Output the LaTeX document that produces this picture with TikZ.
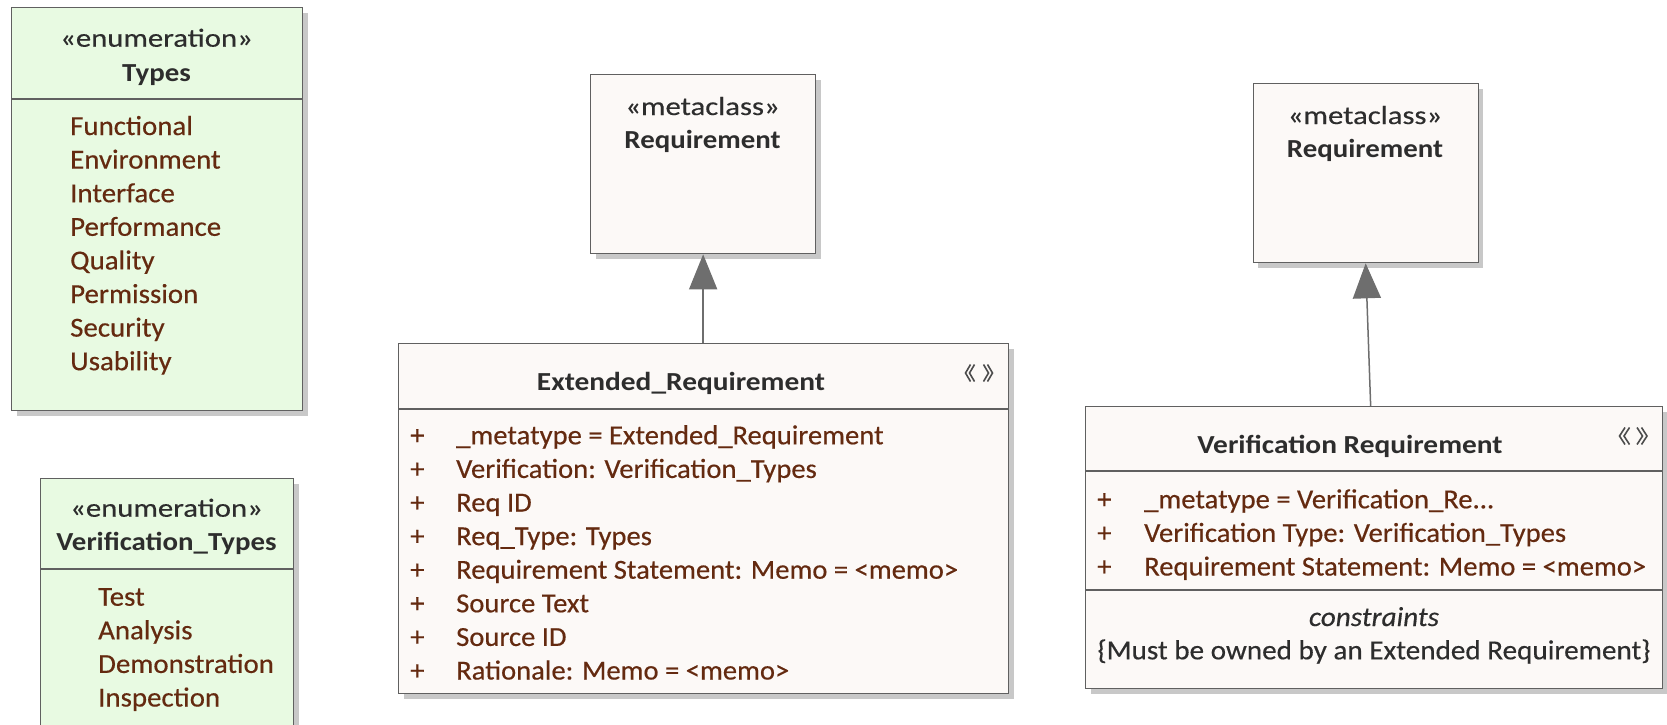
\documentclass[tikz,border=0pt]{standalone}
\usepackage{fontspec}
\setmainfont{Carlito}
\newfontfamily\hdfont[FakeStretch=1.18,FakeBold=0.4]{Carlito}
\newfontfamily\hdbfont[FakeStretch=1.11]{Carlito}
\newfontfamily\itemfont[FakeStretch=1.05,FakeBold=0.4]{Carlito}
\newfontfamily\attrfont[FakeStretch=1.04,FakeBold=0.4]{Carlito}
\newfontfamily\titlefont[FakeStretch=1.13]{Carlito}
\newfontfamily\consfont[FakeStretch=1.06,FakeBold=0.4]{Carlito}
\usetikzlibrary{arrows.meta,calc,shadows}
\definecolor{enumfill}{RGB}{232,250,226}
\definecolor{clsfill}{RGB}{252,249,247}
\definecolor{bordc}{RGB}{96,96,96}
\definecolor{shadowc}{RGB}{200,200,200}
\definecolor{attrc}{RGB}{100,42,16}
\definecolor{titlec}{RGB}{45,45,45}
\definecolor{linec}{RGB}{110,110,110}
\begin{document}
\begin{tikzpicture}[x=1pt,y=-1pt,
  box/.style={draw=bordc, line width=1.3pt, anchor=north west, inner sep=0pt,
    drop shadow={shadow xshift=5pt, shadow yshift=-5pt, fill=shadowc, opacity=1}},
  divider/.style={draw=bordc, line width=1.3pt},
  hd/.style={anchor=base, inner sep=0pt, text=titlec, font=\fontsize{26}{30}\hdfont},
  hdb/.style={anchor=base, inner sep=0pt, text=titlec, font=\fontsize{26}{30}\hdbfont\bfseries},
  itm/.style={anchor=base west, inner sep=0pt, text=attrc, font=\fontsize{27.5}{33}\itemfont},
  attr/.style={anchor=base west, inner sep=0pt, text=attrc, font=\fontsize{27.5}{33}\attrfont},
  ttl/.style={anchor=base, inner sep=0pt, text=titlec, font=\fontsize{26}{30}\titlefont\bfseries},
  cons/.style={anchor=base, inner sep=0pt, text=titlec, font=\fontsize{27.5}{33}\consfont},
  icon/.style={draw=titlec!85, line width=1.6pt},
  gen/.style={draw=linec, line width=1.5pt, -{Triangle[width=28pt,length=35pt]}}]
\useasboundingbox (0,0) rectangle (1667,724);
\clip (0,0) rectangle (1667,724);

% ---------- Types enumeration ----------
\node[box, fill=enumfill, minimum width=291pt, minimum height=403pt] (types) at (11,7) {};
\draw[divider] (11,99) -- (302,99);
\node[hd] (typesst) at (156.5,46.7) {«enumeration»};
\node[hdb] (typesnm) at (156.5,81) {Types};
\foreach \t [count=\i from 0] in {Functional,Environment,Interface,Performance,Quality,Permission,Security,Usability}
  \node[itm] (ty\i) at (70,135+33.6*\i) {\t};

% ---------- Verification_Types enumeration ----------
\node[box, fill=enumfill, minimum width=253pt, minimum height=270pt] (vtypes) at (40,478) {};
\draw[divider] (40,569) -- (293,569);
\node[hd] (vtst) at (166.5,516.7) {«enumeration»};
\node[hdb] (vtnm) at (166.5,550.7) {Verification\_Types};
\foreach \t [count=\i from 0] in {Test,Analysis,Demonstration,Inspection}
  \node[itm] (vt\i) at (98,605.7+33.6*\i) {\t};

% ---------- Metaclass Requirement (left) ----------
\node[box, fill=clsfill, minimum width=225pt, minimum height=179pt] (meta1) at (590,74) {};
\node[hd] (m1st) at (702.5,115) {«metaclass»};
\node[hdb] (m1nm) at (702.5,148.3) {Requirement};

% ---------- Metaclass Requirement (right) ----------
\node[box, fill=clsfill, minimum width=225pt, minimum height=179pt] (meta2) at (1252.5,83) {};
\node[hd] (m2st) at (1365,124) {«metaclass»};
\node[hdb] (m2nm) at (1365,157.3) {Requirement};

% ---------- Extended_Requirement ----------
\node[box, fill=clsfill, minimum width=610pt, minimum height=350pt] (ext) at (398,343) {};
\draw[divider] (398,409) -- (1008,409);
\node[ttl] (extnm) at (681,390) {Extended\_Requirement};
\draw[icon] (970.5,364.5) -- (965.5,373) -- (970.5,381.5) (974.5,364.5) -- (969.5,373) -- (974.5,381.5);
\draw[icon] (983.5,364.5) -- (988.5,373) -- (983.5,381.5) (987.5,364.5) -- (992.5,373) -- (987.5,381.5);
\foreach \t [count=\i from 0] in {\_metatype = Extended\_Requirement,
  Verification: Verification\_Types, Req ID, Req\_Type: Types,
  Requirement Statement: Memo = <memo>, Source Text, Source ID,
  Rationale: Memo = <memo>}
{
  \node[attr] (ep\i) at (410,444.3+33.6*\i) {+};
  \node[attr] (ea\i) at (456,444.3+33.6*\i) {\t};
}

% ---------- Verification Requirement ----------
\node[box, fill=clsfill, minimum width=577pt, minimum height=282pt] (vr) at (1085,406) {};
\draw[divider] (1085,471) -- (1662,471);
\draw[divider] (1085,590) -- (1662,590);
\node[ttl] (vrnm) at (1350,453.3) {Verification Requirement};
\draw[icon] (1625,427.5) -- (1619.5,436) -- (1625,444.5) (1629.5,427.5) -- (1624,436) -- (1629.5,444.5);
\draw[icon] (1637,427.5) -- (1642.5,436) -- (1637,444.5) (1641.5,427.5) -- (1647,436) -- (1641.5,444.5);
\node[attr] (vp0) at (1097,508.3) {+};
\node[attr] (va0) at (1144,508.3) {\_metatype = Verification\_Re...};
\node[attr] (vp1) at (1097,541.9) {+};
\node[attr] (va1) at (1144,541.9) {Verification Type: Verification\_Types};
\node[attr] (vp2) at (1097,575.5) {+};
\node[attr] (va2) at (1144,575.5) {Requirement Statement: Memo = <memo>};
\node[cons] (vrc1) at (1374,626) {\itshape constraints};
\node[cons] (vrc2) at (1374,659.3) {\{Must be owned by an Extended Requirement\}};

% ---------- Generalizations ----------
\draw[gen] (meta1.south |- ext.north) -- (meta1.south);
\draw[gen] ($(vr.north)+(-3.5,0)$) -- (meta2.south);
\end{tikzpicture}
\end{document}
